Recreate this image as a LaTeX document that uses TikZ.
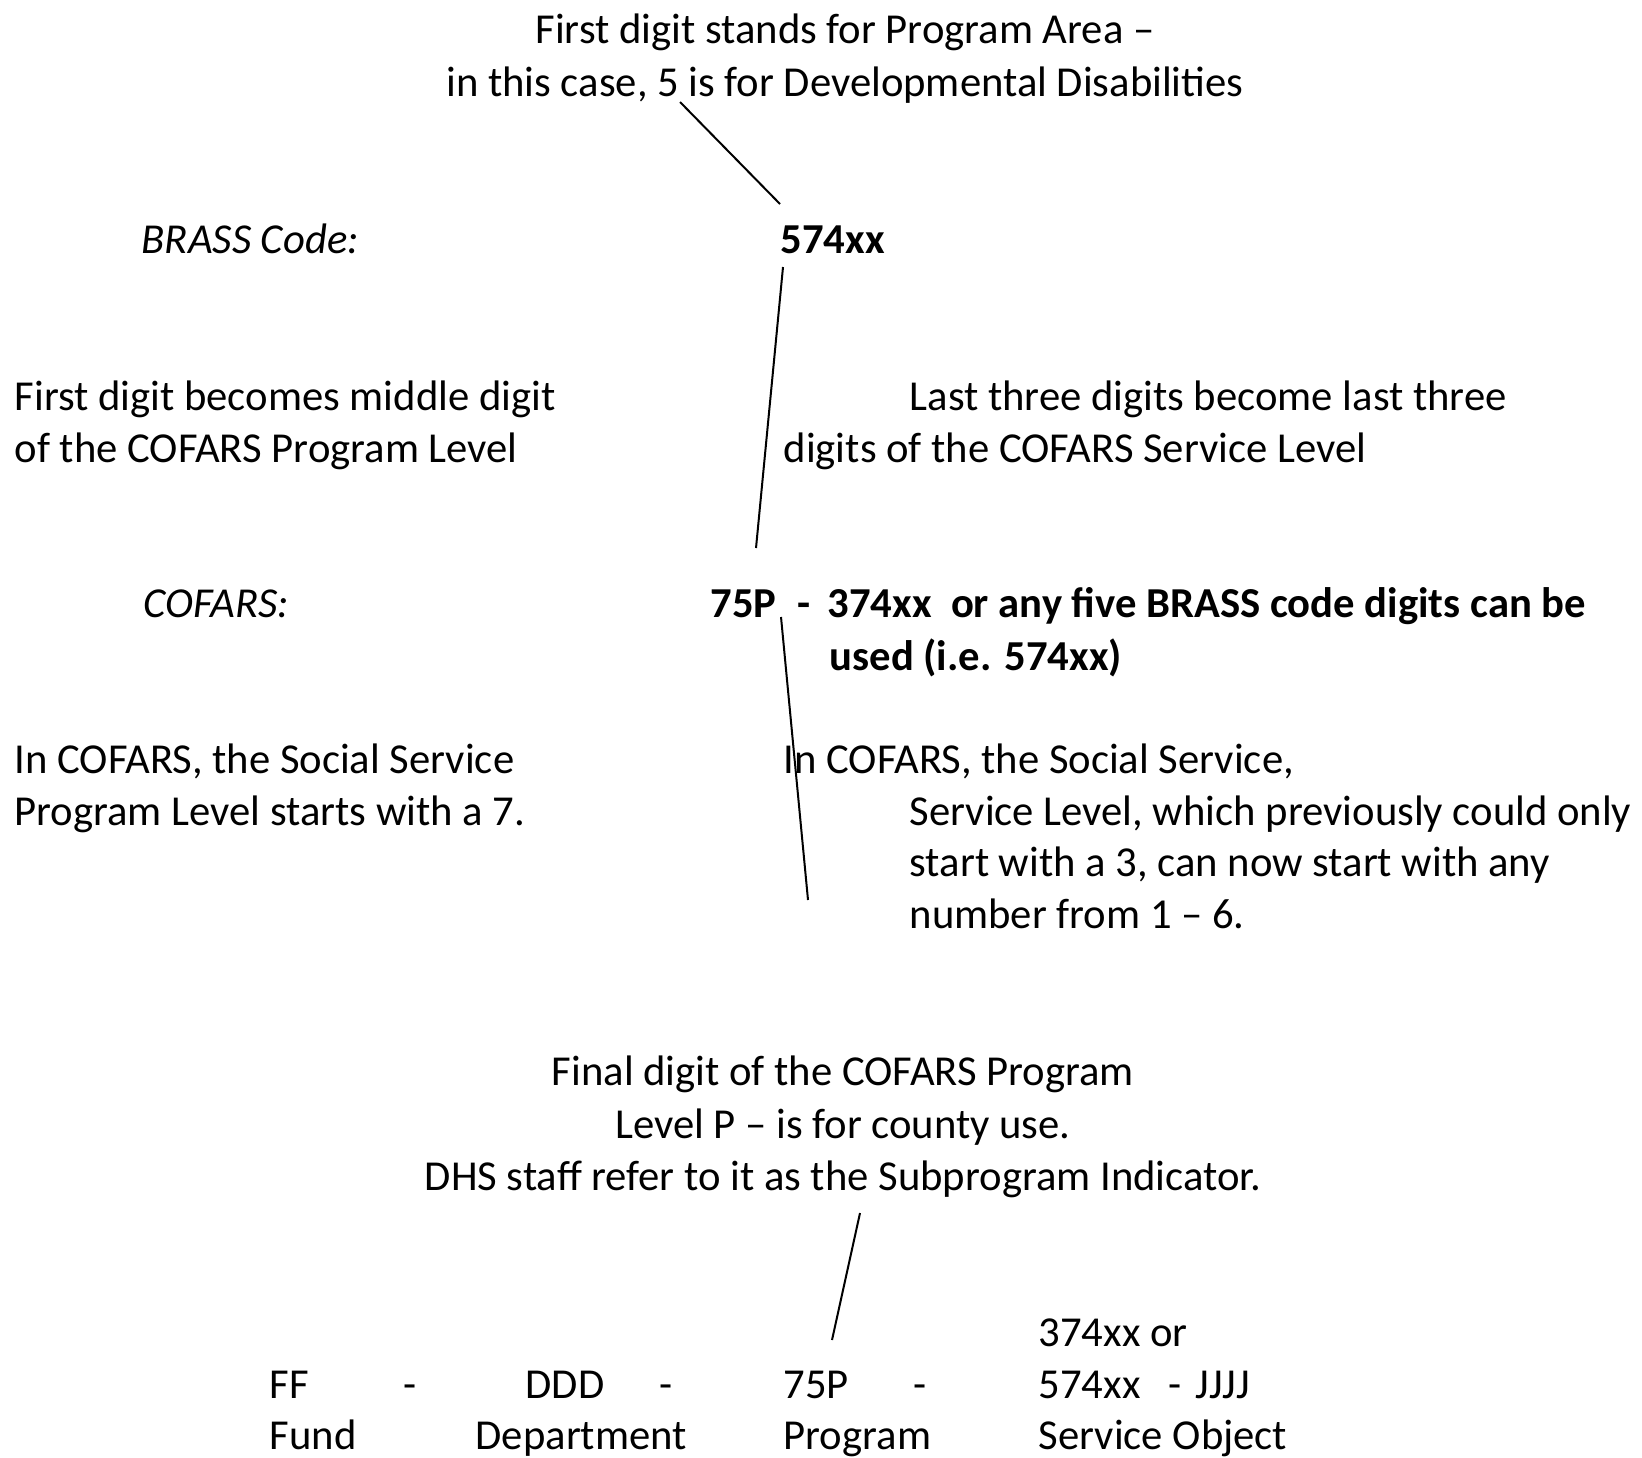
\documentclass[tikz,border=0pt]{standalone}
\usepackage{fontspec}
\setmainfont{Carlito}

\begin{document}
\begin{tikzpicture}[x=0.3pt,y=-0.3pt,
  txt/.style={anchor=base west,inner sep=0,font=\fontsize{12.8}{15}\selectfont},
  mid/.style={txt,anchor=base},
  lead/.style={line width=0.6pt}]
\useasboundingbox (0,0) rectangle (1642,1457);

% note on the program area
\foreach \ln/\yy/\tx in {1/44/{First digit stands for Program Area –},
                         2/97/{in this case, 5 is for Developmental Disabilities}}
  {\node [mid] (area\ln) at (845,\yy) {\tx};}

% BRASS code row
\node [txt] (brasslbl) at (141,253) {\textit{BRASS Code:}};
\node [txt] (brass) at (780,253) {\textbf{574xx}};

% notes between the two codes
\foreach \ln/\xx/\yy/\tx in {1/14/410/{First digit becomes middle digit},
                             2/14/462/{of the COFARS Program Level},
                             3/909/410/{Last three digits become last three},
                             4/783/462/{digits of the COFARS Service Level}}
  {\node [txt] (mid\ln) at (\xx,\yy) {\tx};}

% COFARS row
\node [txt] (cofarslbl) at (143,617) {\textit{COFARS:}};
\node [txt] (prog) at (710,617) {\textbf{75P}};
\node [txt] (dash) at (797,617) {\textbf{-}};
\node [txt] (serv) at (827,617) {\textbf{374xx\ \ or any five BRASS code digits can be}};
\node [txt] (serv2) at (829,670) {\textbf{used (i.e. 574xx)}};

% notes under the COFARS code
\foreach \ln/\xx/\yy/\tx in {1/14/773/{In COFARS, the Social Service},
                             2/14/825/{Program Level starts with a 7.},
                             3/783/773/{In COFARS, the Social Service,},
                             4/909/825/{Service Level, which previously could only},
                             5/909/876/{start with a 3, can now start with any},
                             6/909/928/{number from 1 – 6.}}
  {\node [txt] (low\ln) at (\xx,\yy) {\tx};}

% note on the subprogram indicator
\foreach \ln/\yy/\tx in {1/1085/{Final digit of the COFARS Program},
                         2/1138/{Level P – is for county use.},
                         3/1190/{DHS staff refer to it as the Subprogram Indicator.}}
  {\node [mid] (sub\ln) at (843,\yy) {\tx};}

% full account string
\node [txt] (alt) at (1038,1346) {374xx or};
\foreach \nm/\xx/\tx in {ff/269/FF,d1/403/-,ddd/525/DDD,d2/659/-,p/783/75P,d3/913/-,
                         obj/1038/574xx,d4/1168/-,jjjj/1195/JJJJ}
  {\node [txt] (\nm) at (\xx,1398) {\tx};}
\foreach \nm/\xx/\tx in {fund/269/Fund,dept/475/Department,program/783/Program,
                         object/1038/Service Object}
  {\node [txt] (\nm) at (\xx,1449) {\tx};}

% leader lines
\coordinate (l1a) at (680,102);  \coordinate (l1b) at (780,204);
\coordinate (l2a) at (783,267);  \coordinate (l2b) at (756,548);
\coordinate (l3a) at (781,617);  \coordinate (l3b) at (808,900);
\coordinate (l4a) at (860,1213); \coordinate (l4b) at (832,1340);
\foreach \ln in {1,2,3,4}
  {\draw [lead] (l\ln a) -- (l\ln b);}
\end{tikzpicture}
\end{document}
